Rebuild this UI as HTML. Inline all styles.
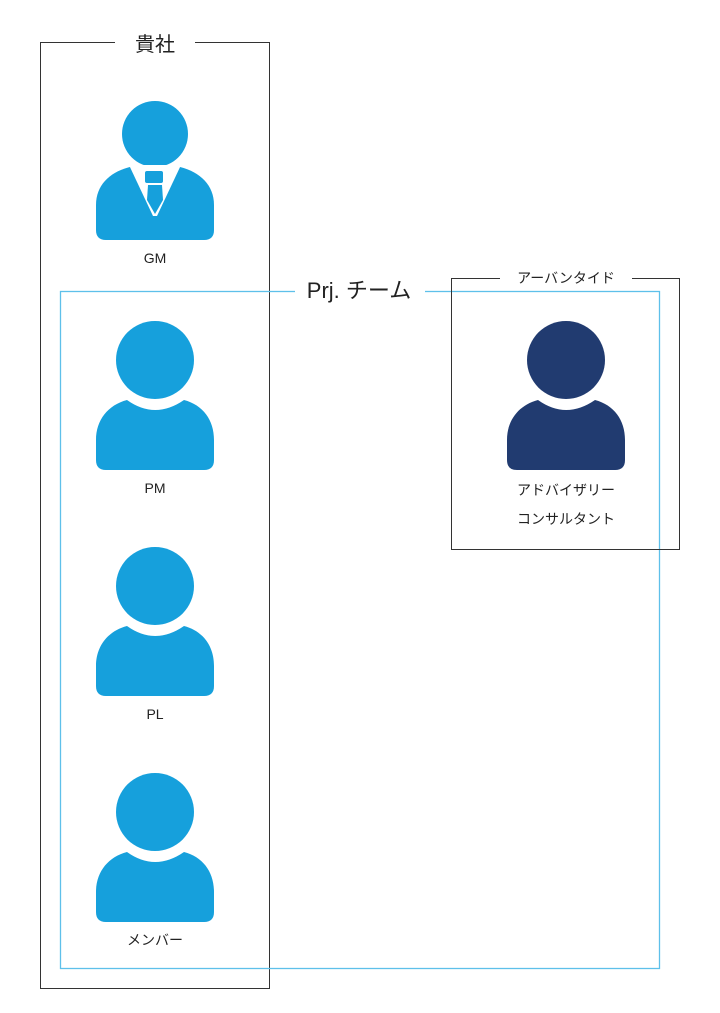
<!DOCTYPE html>
<html><head><meta charset="utf-8"><style>
body{margin:0;background:#fff;width:720px;height:1008px;overflow:hidden;font-family:"Liberation Sans","Noto Sans CJK JP",sans-serif;}
</style></head><body>
<svg width="720" height="1008" viewBox="0 0 720 1008" xmlns="http://www.w3.org/2000/svg" font-family="Liberation Sans, Noto Sans CJK JP, sans-serif">
<defs>
<g id="p">
<circle cx="0" cy="0" r="39"/>
<path d="M-59,100 L-59,80 C-59,60 -47,45 -28,40 Q0,60 29,40 C48,45 59,60 59,80 L59,100 Q59,110 49,110 L-49,110 Q-59,110 -59,100 Z"/>
</g>
</defs>
<rect x="40.5" y="42.5" width="229" height="946" fill="none" stroke="#333" stroke-width="1"/>
<rect x="115" y="30" width="80" height="26" fill="#fff"/>
<text x="155" y="51" font-size="20" text-anchor="middle" fill="#222">貴社</text>
<rect x="60.5" y="291.5" width="599" height="677" fill="none" stroke="#5ec0ea" stroke-width="1.3"/>
<rect x="451.5" y="278.5" width="228" height="271" fill="none" stroke="#333" stroke-width="1"/>
<rect x="295" y="276" width="130" height="30" fill="#fff"/>
<text x="359" y="298" font-size="22" text-anchor="middle" fill="#222">Prj. チーム</text>
<rect x="500" y="268" width="132" height="20" fill="#fff"/>
<text x="566" y="283" font-size="14" text-anchor="middle" fill="#222">アーバンタイド</text>
<!-- GM -->
<g fill="#16a0dc">
<circle cx="155" cy="134" r="33"/>
<path d="M96,230 L96,205 C96,185 110,172 130,167 L180,167 C200,172 214,185 214,205 L214,230 Q214,240 204,240 L106,240 Q96,240 96,230Z"/>
</g>
<polygon points="129,165 181,165 157,216 153,216" fill="#fff"/>
<g fill="#16a0dc">
<rect x="145" y="171" width="18" height="12" rx="2"/>
<polygon points="148,185 162,185 163,200 155,214 147,200"/>
</g>
<text x="155" y="263" font-size="14" text-anchor="middle" fill="#222">GM</text>
<use href="#p" x="155" y="360" fill="#16a0dc"/>
<text x="155" y="493" font-size="14" text-anchor="middle" fill="#222">PM</text>
<use href="#p" x="155" y="586" fill="#16a0dc"/>
<text x="155" y="719" font-size="14" text-anchor="middle" fill="#222">PL</text>
<use href="#p" x="155" y="812" fill="#16a0dc"/>
<text x="155" y="945" font-size="14" text-anchor="middle" fill="#222">メンバー</text>
<use href="#p" x="566" y="360" fill="#213b70"/>
<text x="566" y="495" font-size="14" text-anchor="middle" fill="#222">アドバイザリー</text>
<text x="566" y="524" font-size="14" text-anchor="middle" fill="#222">コンサルタント</text>
</svg>
</body></html>
